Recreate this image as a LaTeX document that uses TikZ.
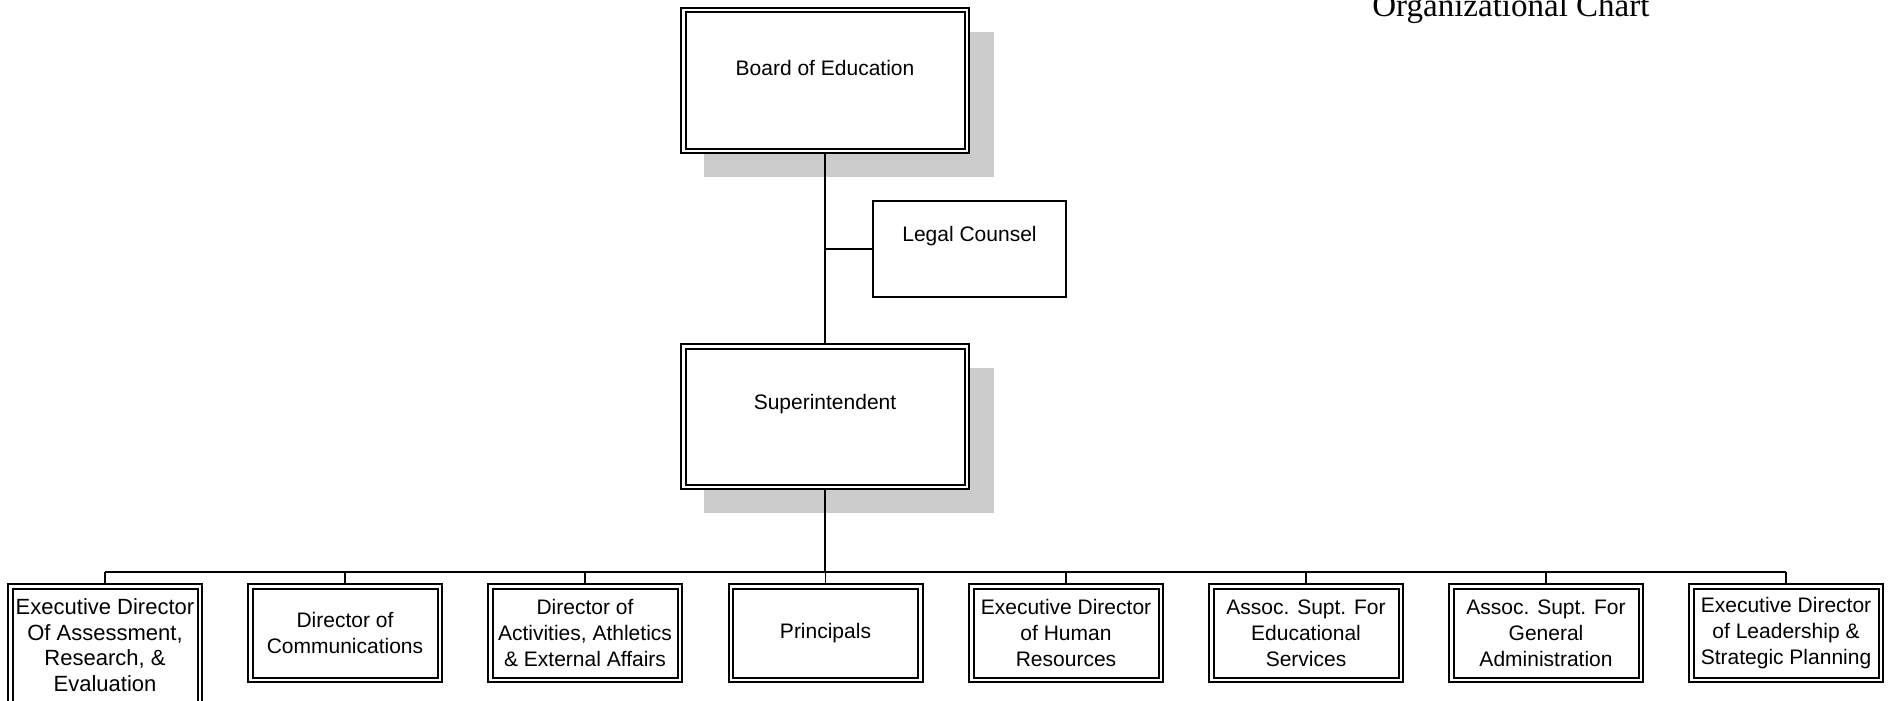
\documentclass[tikz,border=0pt]{standalone}
\usepackage{fontspec}
\setmainfont{Liberation Sans}
\newfontfamily\titlefont{Liberation Serif}
\usetikzlibrary{backgrounds}
\begin{document}
\begin{tikzpicture}[x=0.5pt,y=-0.5pt,
  boxfont/.style={font=\fontsize{10.5}{13}\selectfont},
  dbox/.style={draw, double, double distance=1.25pt, line width=1pt,
    fill=white, inner sep=0pt, align=center, boxfont},
  bigbox/.style={dbox, minimum width=141.75pt, minimum height=70.25pt},
  unitbox/.style={dbox, minimum width=94.75pt, minimum height=46.75pt},
  sbox/.style={draw, line width=1pt, fill=white, inner sep=0pt,
    minimum width=96.5pt, minimum height=48pt},
  lbl/.style={inner sep=0pt, align=center, boxfont},
  shade/.style={fill=black!20},
  conn/.style={line width=0.85pt},
  drop/.style={line width=0.75pt}
]
\useasboundingbox (0,0) rectangle (1889,701);

% top of the chart
\node[bigbox] (board) at (825,80.5) {};
\node[lbl] (boardtxt) at (825,68) {Board of Education};
\node[sbox] (legal) at (969.5,249) {};
\node[lbl] (legaltxt) at (969.5,236.5) {Legal Counsel};
\node[bigbox] (super) at (825,416.5) {};
\node[lbl] (supertxt) at (825,404) {Superintendent};

% departments
\node[unitbox, minimum height=61.75pt] (u1) at (105,648) {};
\node[lbl, font=\fontsize{11}{12.85}\selectfont] (u1txt) at (105,645)
  {Executive Director\\Of Assessment,\\Research, \&\\Evaluation};
\node[unitbox] (u2) at (345,633) {Director of\\Communications};
\node[unitbox] (u3) at (585,633) {Director of\\Activities, Athletics\\\& External Affairs};
\node[unitbox] (u4) at (825.5,633) {Principals};
\node[unitbox] (u5) at (1066,633) {Executive Director\\of Human\\Resources};
\node[unitbox] (u6) at (1306,633) {Assoc. Supt. For\\Educational\\Services};
\node[unitbox] (u7) at (1546,633) {Assoc. Supt. For\\General\\Administration};
\node[unitbox] (u8) at (1786,633) {Executive Director\\of Leadership \&\\Strategic Planning};

% title
\node[anchor=base west, inner sep=0pt, font=\titlefont\fontsize{16.5}{18}\selectfont]
  (title) at (1372,17) {Organizational Chart};

\begin{pgfonlayer}{background}
  % drop shadows
  \fill[shade] (704,32) rectangle (994,177);
  \fill[shade] (704,368) rectangle (994,513);
  % reporting lines
  \coordinate (bus) at (825,572);
  \draw[conn] (board.south) -- (super.north);
  \draw[conn] (legal.west -| board.south) -- (legal.west);
  \draw[conn] (super.south) -- (bus);
  \draw[conn] (u1.north |- bus) -- (u8.north |- bus);
  \foreach \u in {u1,u2,u3,u4,u5,u6,u7,u8}
    \draw[drop] (\u.north |- bus) -- (\u.north);
\end{pgfonlayer}
\end{tikzpicture}
\end{document}
